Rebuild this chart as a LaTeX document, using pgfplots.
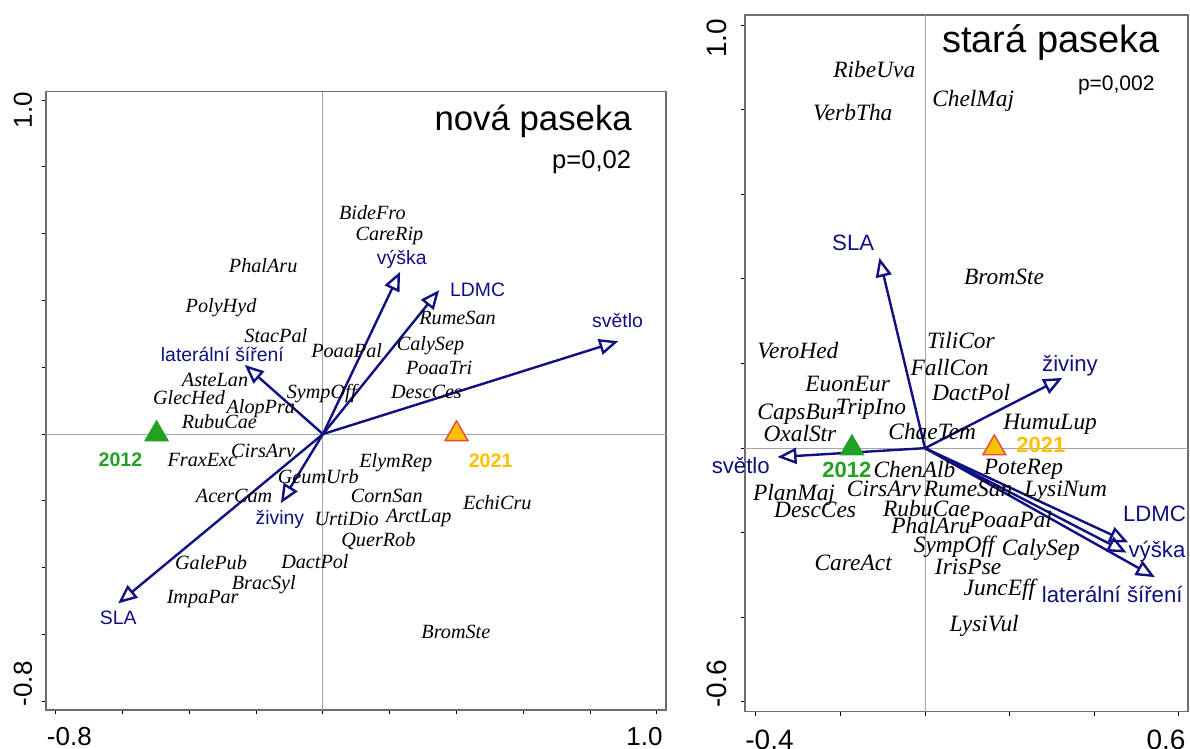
\documentclass[border=0pt]{standalone}
\usepackage{fontspec}
\setmainfont{Liberation Serif}
\setsansfont{Liberation Sans}
\usepackage{pgfplots}
\pgfplotsset{compat=1.18}
\usetikzlibrary{arrows.meta}
\definecolor{navyc}{RGB}{16,16,128}
\definecolor{greenc}{RGB}{34,160,34}
\definecolor{orangec}{RGB}{255,192,0}
\definecolor{redc}{RGB}{232,70,70}
\definecolor{boxc}{RGB}{110,110,110}
\definecolor{crossc}{RGB}{165,165,165}
\begin{document}
\begin{tikzpicture}
\path[use as bounding box] (0,0) rectangle (595pt,374.5pt);
\pgfplotsset{
  ord/.style={scale only axis, clip=false, anchor=south west,
    axis line style={draw=boxc, line width=0.8pt},
    tick align=outside, xtick pos=left, ytick pos=left,
    major tick length=2.2pt, tick style={black, line width=0.5pt},
    xticklabels={}, yticklabels={}},
  arr/.style={navyc, line width=1.2pt, -{Triangle[open, length=9.5pt, width=8pt]}},
  cross/.style={crossc, line width=0.5pt},
}
%%%%%%%%%%%%%%%%%%%%%%%%%%%%%%%%%%%%%%%%%%%%%%%%%%% LEFT
\begin{axis}[ord, at={(23pt,19.5pt)}, width=310pt, height=309.15pt,
  xmin=-0.829, xmax=1.027, ymin=-0.826, ymax=1.025,
  xtick={-0.8,-0.6,...,1.01}, ytick={-0.8,-0.6,...,1.01}]
\addplot[cross] coordinates {(-0.829,0) (1.027,0)};
\addplot[cross] coordinates {(0,-0.826) (0,1.025)};
% species
\addplot[only marks, mark=none, nodes near coords, point meta=explicit symbolic,
  every node near coord/.append style={anchor=base, yshift=-3.3pt, inner sep=0pt,
    font=\fontsize{10.1}{12}\selectfont\itshape, text=black}]
  table[col sep=comma, meta=l] {
x,y,l
0.148,0.663,BideFro
0.199,0.599,CareRip
-0.179,0.503,PhalAru
-0.305,0.383,PolyHyd
-0.141,0.294,StacPal
0.071,0.249,PoaaPal
-0.323,0.162,AsteLan
-0.401,0.107,GlecHed
-0.186,0.082,AlopPra
-0.004,0.127,SympOff
-0.310,0.037,RubuCae
-0.179,-0.050,CirsArv
-0.361,-0.078,FraxExc
-0.014,-0.128,GeumUrb
-0.266,-0.186,AcerCam
0.218,-0.080,ElymRep
0.191,-0.185,CornSan
0.071,-0.255,UrtiDio
0.287,-0.246,ArctLap
0.166,-0.317,QuerRob
-0.024,-0.384,DactPol
-0.335,-0.387,GalePub
-0.177,-0.445,BracSyl
-0.360,-0.487,ImpaPar
0.522,-0.207,EchiCru
0.398,-0.592,BromSte
0.403,0.349,RumeSan
0.322,0.269,CalySep
0.348,0.197,PoaaTri
0.310,0.127,DescCes
};
% trait arrows
\addplot[arr] coordinates {(0,0) (0.231,0.486)};
\addplot[arr] coordinates {(0,0) (0.348,0.431)};
\addplot[arr] coordinates {(0,0) (0.884,0.278)};
\addplot[arr] coordinates {(0,0) (-0.234,0.207)};
\addplot[arr] coordinates {(0,0) (-0.126,-0.207)};
\addplot[arr] coordinates {(0,0) (-0.613,-0.507)};
\addplot[only marks, mark=none, nodes near coords, point meta=explicit symbolic,
  every node near coord/.append style={anchor=base, yshift=-3.5pt, inner sep=0pt,
    font=\fontsize{9.7}{12}\selectfont\sffamily, text=navyc}]
  table[col sep=comma, meta=l] {
x,y,l
0.236,0.529,výška
0.463,0.433,LDMC
0.882,0.341,světlo
-0.301,0.237,laterální šíření
-0.129,-0.249,živiny
-0.613,-0.550,SLA
};
% years
\addplot[only marks, mark=triangle*, mark size=6.6pt, mark options={fill=greenc, draw=greenc, line width=0.6pt}] coordinates {(-0.498,0)};
\addplot[only marks, mark=triangle*, mark size=6.6pt, mark options={fill=orangec, draw=redc, line width=0.7pt}] coordinates {(0.400,0)};
\addplot[only marks, mark=none, nodes near coords, point meta=explicit symbolic,
  every node near coord/.append style={anchor=base, yshift=-3.5pt, inner sep=0pt,
    font=\fontsize{9.8}{12}\selectfont\sffamily\bfseries, text=greenc}]
  table[col sep=comma, meta=l] {
x,y,l
-0.606,-0.076,2012
};
\addplot[only marks, mark=none, nodes near coords, point meta=explicit symbolic,
  every node near coord/.append style={anchor=base, yshift=-3.5pt, inner sep=0pt,
    font=\fontsize{9.8}{12}\selectfont\sffamily\bfseries, text=orangec}]
  table[col sep=comma, meta=l] {
x,y,l
0.502,-0.078,2021
};
\node[anchor=base east, inner sep=0pt, font=\fontsize{17.4}{20}\selectfont\sffamily] at (axis cs:0.926,0.910) {nová paseka};
\node[anchor=base east, inner sep=0pt, font=\fontsize{12.8}{15}\selectfont\sffamily] at (axis cs:0.924,0.795) {p=0,02};
% tick labels
\node[anchor=north west, inner sep=0pt, font=\fontsize{13}{15}\selectfont\sffamily] at ([xshift=0.3pt,yshift=-8.5pt]rel axis cs:0,0) {-0.8};
\node[anchor=north east, inner sep=0pt, font=\fontsize{13}{15}\selectfont\sffamily] at ([xshift=-1.5pt,yshift=-8.5pt]rel axis cs:1,0) {1.0};
\node[rotate=90, anchor=base east, inner sep=0pt, font=\fontsize{13}{15}\selectfont\sffamily] at ([xshift=-7pt]rel axis cs:0,1) {1.0};
\node[rotate=90, anchor=base west, inner sep=0pt, font=\fontsize{13}{15}\selectfont\sffamily] at ([xshift=-7pt,yshift=1.7pt]rel axis cs:0,0) {-0.8};
\end{axis}
%%%%%%%%%%%%%%%%%%%%%%%%%%%%%%%%%%%%%%%%%%%%%%%%%%% RIGHT
\begin{axis}[ord, at={(372.5pt,18.65pt)}, width=221.65pt, height=348.35pt,
  xmin=-0.426, xmax=0.623, ymin=-0.623, ymax=1.024,
  xtick={-0.4,-0.2,...,0.61}, ytick={-0.6,-0.4,...,1.01}]
\addplot[cross] coordinates {(-0.426,0) (0.623,0)};
\addplot[cross] coordinates {(0,-0.623) (0,1.024)};
\addplot[only marks, mark=none, nodes near coords, point meta=explicit symbolic,
  every node near coord/.append style={anchor=base, yshift=-3.9pt, inner sep=0pt,
    font=\fontsize{11.7}{14}\selectfont\itshape, text=black}]
  table[col sep=comma, meta=l] {
x,y,l
-0.120,0.895,RibeUva
-0.171,0.793,VerbTha
0.114,0.826,ChelMaj
0.187,0.406,BromSte
0.085,0.254,TiliCor
-0.301,0.230,VeroHed
0.058,0.191,FallCon
-0.183,0.152,EuonEur
0.109,0.132,DactPol
-0.298,0.087,CapsBur
-0.128,0.097,TripIno
0.296,0.062,HumuLup
-0.296,0.034,OxalStr
0.017,0.038,ChaeTem
0.233,-0.045,PoteRep
-0.025,-0.051,ChenAlb
-0.097,-0.095,CirsArv
0.102,-0.095,RumeSan
0.333,-0.095,LysiNum
-0.310,-0.105,PlanMaj
-0.260,-0.146,DescCes
0.004,-0.142,RubuCae
0.203,-0.170,PoaaPal
0.014,-0.184,PhalAru
0.069,-0.229,SympOff
0.274,-0.235,CalySep
-0.170,-0.271,CareAct
0.102,-0.280,IrisPse
0.176,-0.329,JuncEff
0.140,-0.416,LysiVul
};
\addplot[arr] coordinates {(0,0) (-0.108,0.450)};
\addplot[arr] coordinates {(0,0) (0.325,0.166)};
\addplot[arr] coordinates {(0,0) (-0.349,-0.021)};
\addplot[arr] coordinates {(0,0) (0.481,-0.223)};
\addplot[arr] coordinates {(0,0) (0.477,-0.247)};
\addplot[arr] coordinates {(0,0) (0.544,-0.305)};
\addplot[only marks, mark=none, nodes near coords, point meta=explicit symbolic,
  every node near coord/.append style={anchor=base, yshift=-4pt, inner sep=0pt,
    font=\fontsize{11.1}{13}\selectfont\sffamily, text=navyc}]
  table[col sep=comma, meta=l] {
x,y,l
-0.170,0.487,SLA
0.343,0.201,živiny
-0.436,-0.041,světlo
0.543,-0.155,LDMC
0.549,-0.240,výška
0.443,-0.345,laterální šíření
};
\addplot[only marks, mark=triangle*, mark size=6.6pt, mark options={fill=greenc, draw=greenc, line width=0.6pt}] coordinates {(-0.173,0)};
\addplot[only marks, mark=triangle*, mark size=6.6pt, mark options={fill=orangec, draw=redc, line width=0.7pt}] coordinates {(0.164,0)};
\addplot[only marks, mark=none, nodes near coords, point meta=explicit symbolic,
  every node near coord/.append style={anchor=base, yshift=-4pt, inner sep=0pt,
    font=\fontsize{11}{13}\selectfont\sffamily\bfseries, text=greenc}]
  table[col sep=comma, meta=l] {
x,y,l
-0.185,-0.051,2012
};
\addplot[only marks, mark=none, nodes near coords, point meta=explicit symbolic,
  every node near coord/.append style={anchor=base, yshift=-4pt, inner sep=0pt,
    font=\fontsize{11}{13}\selectfont\sffamily\bfseries, text=orangec}]
  table[col sep=comma, meta=l] {
x,y,l
0.274,0.008,2021
};
\node[anchor=base east, inner sep=0pt, font=\fontsize{19}{22}\selectfont\sffamily] at (axis cs:0.556,0.935) {stará paseka};
\node[anchor=base east, inner sep=0pt, font=\fontsize{10.5}{13}\selectfont\sffamily] at (axis cs:0.544,0.846) {p=0,002};
\node[anchor=north west, inner sep=0pt, font=\fontsize{14}{16}\selectfont\sffamily] at ([yshift=-9.15pt]rel axis cs:0,0) {-0.4};
\node[anchor=north east, inner sep=0pt, font=\fontsize{14}{16}\selectfont\sffamily] at ([xshift=-1.2pt,yshift=-9.15pt]rel axis cs:1,0) {0.6};
\node[rotate=90, anchor=base east, inner sep=0pt, font=\fontsize{14}{16}\selectfont\sffamily] at ([xshift=-9.15pt,yshift=-1.7pt]rel axis cs:0,1) {1.0};
\node[rotate=90, anchor=base west, inner sep=0pt, font=\fontsize{14}{16}\selectfont\sffamily] at ([xshift=-9.15pt,yshift=1.7pt]rel axis cs:0,0) {-0.6};
\end{axis}
\end{tikzpicture}
\end{document}
